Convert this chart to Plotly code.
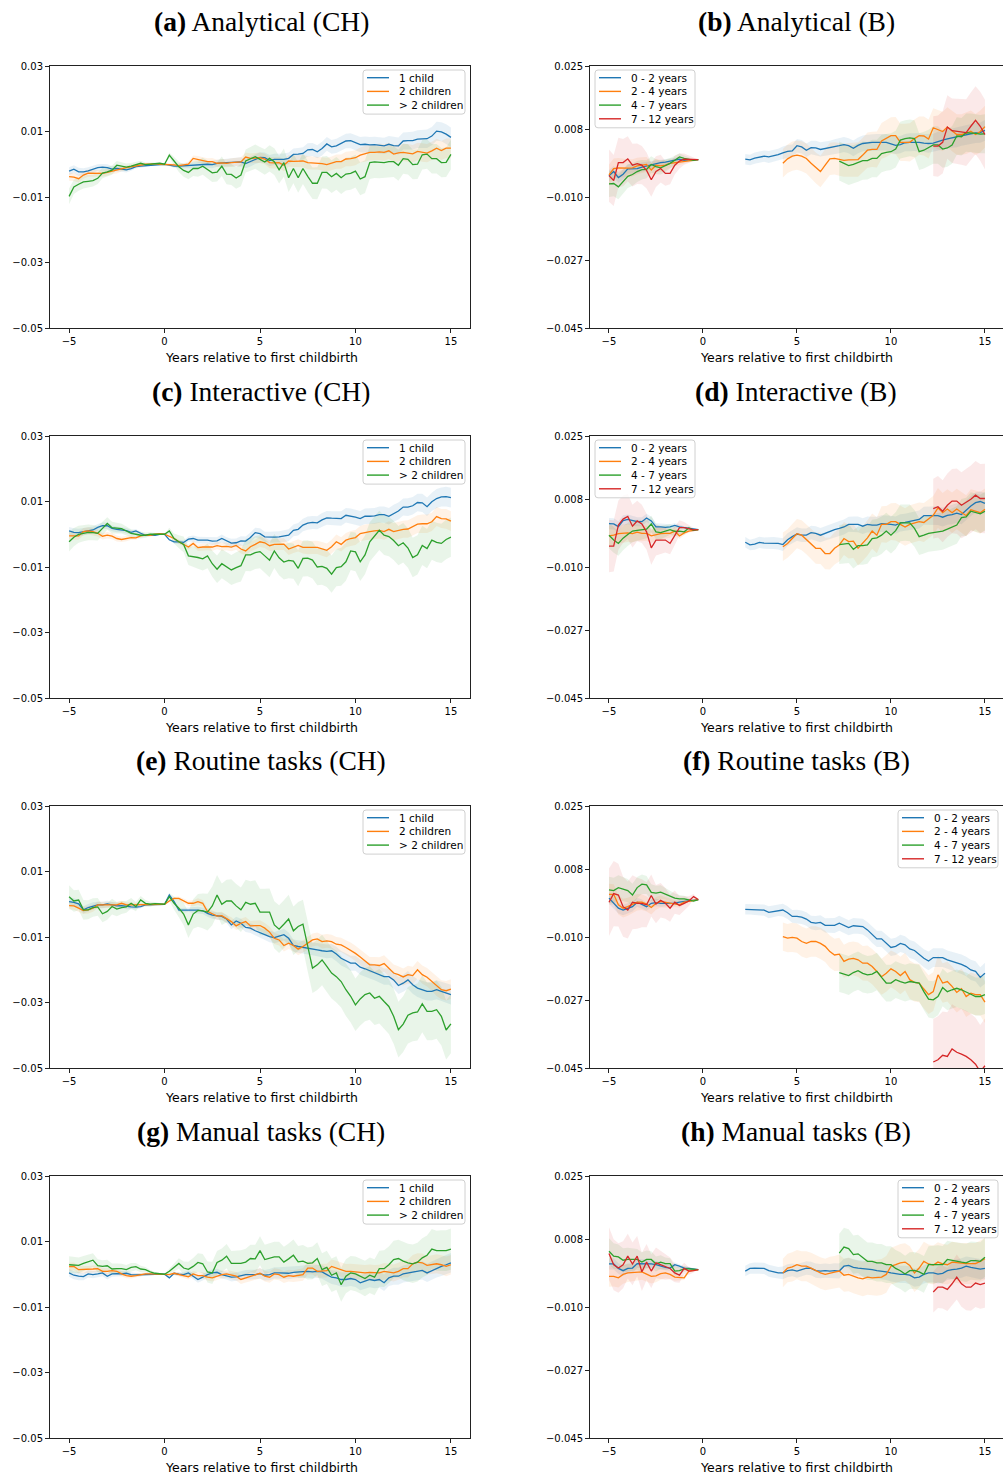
import numpy as np
import plotly.graph_objects as go

# event time: quarters relative to first childbirth (-5 ... 15)
EVENT_TIME = np.arange(-5, 15.001, 0.25)

# ---------- Switzerland (CH): coefficients in 1e-3, one value per quarter ----------
A_ONE_CHILD = [
    -2.1, -1.5, -2.3, -2.3, -2.0, -1.6, -1.0, -0.9, -1.0, -1.5,
    -1.3, -1.5, -1.7, -1.3, -0.7, -0.6, -0.5, -0.3, -0.1, 0,
    0, -0.3, -0.6, -0.6, -0.5, -0.3, -0.3, -0.3, 0, 0,
    -0.1, 0.3, 0.4, 0.5, 0.6, 0.7, 0.7, 0.2, 0.8, 1.6,
    2.1, 2.0, 1.1, 1.5, 1.5, 1.5, 1.8, 3.0, 3.1, 3.3,
    4.4, 4.5, 3.8, 4.8, 6.2, 5.3, 5.6, 6.3, 7.1, 7.2,
    6.6, 6.0, 6.1, 5.9, 6.0, 5.8, 5.6, 6.1, 5.7, 5.6,
    7.1, 7.2, 7.2, 7.7, 7.7, 7.8, 8.6, 10.1, 9.9, 9.2,
    8.2]
A_TWO_CHILDREN = [
    -3.8, -3.9, -4.4, -3.3, -2.7, -2.7, -2.8, -2.8, -2.5, -2.1,
    -1.9, -1.3, -1.0, -0.8, -0.5, -0.2, 0, 0, 0.2, 0,
    0, 0, -0.2, -0.4, -0.3, 0, 1.8, 1.5, 1.1, 0.8,
    0.8, 0.3, 0.4, 0.3, 0.5, 0.7, 0.7, 2.2, 1.8, 1.9,
    2.0, 1.6, 0.5, 0.4, 0.5, -0.3, 1.0, 0.9, 1.0, 1.0,
    0.5, 0.4, 0.4, 0.2, -0.1, 0.3, 0.8, 0.8, 1.6, 1.7,
    2.0, 2.8, 3.2, 3.6, 3.6, 3.8, 3.6, 4.1, 3.1, 3.5,
    3.6, 3.5, 3.2, 3.9, 3.6, 3.4, 4.1, 4.9, 4.2, 4.9,
    4.9]
A_MORE_CHILDREN = [
    -9.8, -6.9, -6.1, -5.4, -5.2, -5.0, -4.3, -2.7, -2.3, -1.8,
    -0.3, -0.6, -0.9, -0.6, -0.1, 0.3, -0.1, 0, 0.2, 0.3,
    0, 2.8, 1.0, -0.8, -1.9, -2.5, -1.3, -1.3, -0.6, -1.6,
    -2.6, -2.4, -0.6, -3.0, -3.1, -4.2, -3.3, 1.0, 1.6, 2.3,
    1.5, 0.7, 1.8, 0.8, -1.7, 0.5, -4.1, -1.3, -4.1, -1.3,
    -3.7, -5.8, -5.8, -2.5, -2.5, -3.8, -2.8, -4.1, -3.0, -2.8,
    -2.1, -4.5, -3.8, 0.5, 0.7, 0.6, 0.5, 0.8, 0.8, -0.3,
    1.7, 1.5, -0.1, 0, 2.9, 3.1, 1.7, 1.7, 0.5, 0.6,
    3.0]

C_ONE_CHILD = [
    1.0, 0.6, 0.5, 0.8, 1.1, 1.3, 2.1, 2.6, 2.6, 1.8,
    1.5, 1.4, 1.1, 0.6, 1.0, 0.3, -0.3, -0.3, -0.3, 0,
    0, -1.7, -2.3, -2.3, -2.5, -1.5, -1.3, -1.8, -1.8, -1.8,
    -2.1, -2.0, -1.3, -2.1, -2.7, -2.6, -2.0, -2.1, -1.0, 0.5,
    0.2, -0.8, -0.9, -0.9, -0.8, -0.6, -0.3, 1.2, 1.5, 2.8,
    3.4, 3.6, 3.5, 4.4, 5.0, 4.9, 4.9, 4.8, 5.8, 5.6,
    5.2, 4.8, 5.5, 5.5, 5.6, 6.0, 6.0, 5.5, 6.4, 7.1,
    8.3, 8.3, 8.7, 9.7, 9.6, 8.4, 9.9, 10.9, 11.4, 11.5,
    11.2]
C_TWO_CHILDREN = [
    -0.5, -0.5, -0.5, 0.8, 1.0, 0.8, 0.3, -0.6, -0.3, -0.6,
    -1.3, -1.6, -1.3, -1.0, -1.1, -0.5, -0.3, -0.3, 0, 0.2,
    0, -0.6, -1.3, -2.3, -3.1, -3.9, -2.8, -4.1, -3.9, -3.9,
    -3.9, -3.5, -3.8, -3.7, -3.9, -3.4, -4.5, -5.1, -3.8, -3.1,
    -2.3, -2.6, -3.5, -3.1, -3.0, -3.0, -4.5, -3.9, -3.4, -4.0,
    -4.1, -4.0, -4.0, -4.5, -4.9, -3.8, -2.3, -3.1, -1.8, -1.3,
    -1.0, 0.2, 0.6, 0.8, 1.0, 1.2, 0.8, 1.5, 0.8, 1.2,
    1.5, 1.6, 2.3, 3.1, 3.2, 3.2, 3.8, 5.4, 4.8, 4.7,
    4.0]
C_MORE_CHILDREN = [
    -2.3, -0.9, 0, 0.4, 0.6, 0.5, 0.3, 1.8, 3.3, 2.0,
    1.8, 1.7, 1.0, 0.3, 0, -0.3, -0.3, 0, 0, 0,
    0, 1.0, -1.3, -2.3, -3.1, -6.6, -6.8, -7.1, -7.5, -6.6,
    -9.0, -10.7, -9.0, -9.9, -10.9, -10.2, -9.6, -6.3, -6.3, -5.6,
    -5.3, -6.6, -7.9, -5.1, -7.2, -8.5, -8.0, -8.2, -10.4, -7.4,
    -7.3, -7.9, -10.0, -9.8, -10.4, -12.2, -10.2, -9.9, -8.4, -5.1,
    -5.4, -8.4, -6.3, -2.3, -0.6, 1.2, -0.3, -0.7, -1.9, -3.5,
    -2.6, -4.2, -7.1, -6.3, -3.4, -4.4, -1.8, -2.5, -2.8, -1.6,
    -0.9]

E_ONE_CHILD = [
    0.8, 0.6, 0.1, -1.7, -1.0, -0.5, -0.2, -0.2, 0.1, -0.2,
    -0.5, -0.4, -0.7, -0.8, -0.9, -0.7, -0.2, -0.1, -0.2, 0,
    0, 2.8, 0.8, -1.8, -1.8, -1.6, -1.6, -1.8, -2.0, -2.8,
    -3.3, -3.6, -3.7, -4.5, -6.3, -5.1, -5.8, -7.1, -7.3, -8.1,
    -8.8, -9.3, -9.9, -10.2, -9.7, -9.3, -10.4, -12.6, -12.9, -13.1,
    -13.4, -13.6, -13.9, -14.2, -14.4, -14.2, -15.2, -16.5, -17.2, -18.0,
    -18.0, -19.2, -19.7, -20.3, -20.8, -21.3, -22.1, -22.1, -23.1, -24.8,
    -24.1, -23.1, -24.6, -25.6, -26.1, -26.6, -26.6, -26.1, -26.6, -27.1,
    -27.6]
E_TWO_CHILDREN = [
    -0.4, -0.5, -1.2, -1.9, -1.7, -1.2, -0.2, -0.2, -0.2, -0.2,
    -0.2, 0.3, -0.2, -0.2, -0.2, -0.2, -0.2, -0.2, -0.1, 0,
    0, 1.0, 1.8, 1.8, 1.0, 0.3, 0.3, 0.8, 0.3, -2.2,
    -2.9, -3.6, -3.5, -4.5, -5.3, -6.6, -5.8, -5.3, -6.6, -6.5,
    -6.5, -7.3, -8.5, -10.4, -10.9, -12.6, -11.9, -12.6, -13.7, -12.9,
    -11.9, -10.9, -10.6, -11.4, -11.2, -11.4, -12.2, -12.4, -13.2, -14.0,
    -15.0, -16.1, -17.3, -18.5, -18.5, -18.7, -18.1, -19.5, -21.0, -21.5,
    -22.2, -21.5, -21.8, -20.0, -21.5, -22.3, -23.6, -25.1, -26.1, -26.4,
    -25.9]
E_MORE_CHILDREN = [
    2.3, 1.0, 1.3, -1.7, -1.7, -1.0, -0.8, -2.9, -2.2, -0.7,
    -1.5, -1.0, -0.8, 0.3, -0.7, 1.3, 0.3, 0, 0.2, 0,
    0, 2.3, 0.3, -1.2, -3.0, -6.3, -3.0, -1.9, -2.0, -2.4,
    -0.5, 2.8, 0, 1.0, 1.0, -0.5, -1.7, 0.6, 0, 0.3,
    -2.4, -2.4, -2.4, -6.3, -7.6, -6.1, -4.5, -8.1, -6.8, -6.1,
    -12.9, -19.5, -18.5, -17.0, -19.0, -21.0, -22.1, -23.6, -26.1, -28.1,
    -30.7, -28.9, -27.6, -27.1, -28.7, -28.1, -29.7, -31.2, -34.2, -38.3,
    -36.6, -33.9, -33.2, -32.9, -30.4, -32.7, -32.7, -32.2, -34.2, -38.4,
    -36.5]

G_ONE_CHILD = [
    0.4, -0.3, -0.6, -0.7, 0.1, -0.1, 0.1, 0.4, -0.6, 0.1,
    0.2, 0.1, 0.3, -0.1, -0.2, -0.1, -0.1, 0.1, 0, 0,
    0, -1.1, 0.3, 0, -0.1, 0.4, -0.6, -1.6, -0.9, -0.1,
    0.4, 0.6, -0.1, -0.4, -0.9, -0.8, -0.4, -0.1, -0.1, -0.1,
    0.2, -0.3, -0.1, 0.4, 0.4, 0.4, 0.3, 0.6, 0.6, 0.8,
    0.9, 0.7, 0.9, 0.7, -0.1, -0.9, -1.1, -1.6, -1.6, -1.3,
    -1.6, -2.6, -2.1, -1.6, -1.9, -1.6, -2.6, -1.1, -0.6, -0.6,
    0.1, 0.4, 0.7, 0.9, 1.2, 0.4, 1.1, 1.9, 2.4, 2.9,
    3.5]
G_TWO_CHILDREN = [
    2.3, 2.4, 1.4, 1.4, 1.4, 1.6, 1.7, 0.9, 0.9, 1.1,
    0.9, 0.1, -0.4, -0.6, -0.4, -0.1, 0.1, 0.1, 0.1, -0.1,
    0, -0.1, 0.3, -0.1, -0.4, -0.8, 0.1, -0.4, -0.4, -0.9,
    -1.1, -0.6, -0.1, 0.1, -0.3, -0.6, -1.6, -1.1, -0.6, -0.1,
    0.3, -0.6, -0.9, 0.1, -0.1, -0.9, -0.4, -0.6, -0.4, -0.1,
    1.9, 1.9, 0.9, 1.1, 1.1, 2.4, 1.9, 1.4, 0.9, 0.9,
    0.7, 0.7, 0.4, 0.6, 0.4, 0.4, 0.9, 0.7, 0.4, 0.9,
    1.7, 1.7, 3.2, 3.7, 3.5, 2.7, 2.9, 3.2, 2.9, 2.4,
    2.9]
G_MORE_CHILDREN = [
    2.9, 2.8, 2.7, 3.3, 3.8, 4.3, 2.6, 2.4, 2.6, 1.6,
    1.7, 1.7, 1.4, 2.1, 2.3, 1.6, 1.4, 0.7, 0.3, 0.1,
    0, 0.9, 2.1, 3.3, 1.9, 1.5, 2.4, 3.6, 3.2, 0.7,
    0.4, 3.6, 4.3, 5.5, 3.3, 3.3, 3.3, 3.7, 4.8, 4.7,
    7.2, 4.5, 5.0, 5.3, 5.3, 3.7, 4.7, 5.8, 3.8, 4.0,
    3.3, 3.5, 4.8, 1.4, 2.1, -0.3, 0.4, -3.2, -0.6, 0.4,
    0.1, -0.6, -1.3, -0.3, -0.9, 1.7, 1.7, 2.9, 4.5, 4.8,
    4.0, 3.5, 3.2, 3.7, 5.0, 5.8, 7.7, 7.2, 7.2, 7.2,
    7.7]

# confidence band half-widths (1e-3), CH panels
L_HW_NARROW = [
    1.2, 1.2, 1.2, 1.1, 1.1, 1.1, 1.0, 1.0, 1.0, 0.9, 0.9, 0.8, 0.8, 0.7, 0.6, 0.5, 0.4, 0.3, 0.2, 0.1,
    0,
    0.3, 0.5, 0.6, 0.7, 0.8, 0.9, 1.0, 1.0, 1.0, 1.1, 1.1, 1.2, 1.2, 1.3, 1.3, 1.4, 1.4, 1.5, 1.5, 1.6,
    1.6, 1.7, 1.7, 1.7, 1.8, 1.8, 1.8, 1.9, 1.9, 2.0, 2.0, 2.0, 2.1, 2.1, 2.1, 2.2, 2.2, 2.2, 2.3, 2.3,
    2.3, 2.4, 2.4, 2.4, 2.5, 2.5, 2.5, 2.6, 2.6, 2.6, 2.7, 2.7, 2.7, 2.8, 2.8, 2.8, 2.9, 2.9, 3.0, 3.0]
L_HW_MORE_A = [
    2.4, 2.2, 2.0, 2.0, 1.9, 1.8, 1.7, 1.6, 1.5, 1.4, 1.3, 1.2, 1.1, 1.0, 0.9, 0.8, 0.6, 0.5, 0.3, 0.2,
    0,
    0.8, 1.2, 1.6, 1.9, 2.1, 2.3, 2.5, 2.6, 2.7, 2.8, 2.9, 3.0, 3.1, 3.2, 3.3, 3.4, 3.5, 3.6, 3.7, 3.8,
    3.9, 4.0, 4.1, 4.2, 4.3, 4.4, 4.5, 4.6, 4.7, 4.8, 4.8, 4.9, 4.9, 5.0, 5.0, 5.0, 5.0, 5.0, 5.0, 5.0,
    5.0, 5.0, 5.0, 4.9, 4.9, 4.8, 4.8, 4.7, 4.7, 4.6, 4.6, 4.5, 4.5, 4.5, 4.5, 4.5, 4.5, 4.5, 4.5, 4.5]
L_HW_MORE_C = [
    3.0, 2.8, 2.6, 2.5, 2.4, 2.3, 2.2, 2.0, 1.9, 1.8, 1.6, 1.5, 1.4, 1.2, 1.1, 1.0, 0.8, 0.6, 0.4, 0.2,
    0,
    1.0, 1.5, 2.0, 2.4, 2.8, 3.1, 3.4, 3.6, 3.8, 4.0, 4.2, 4.4, 4.5, 4.6, 4.7, 4.8, 4.9, 5.0, 5.0, 5.1,
    5.1, 5.2, 5.2, 5.3, 5.3, 5.4, 5.4, 5.5, 5.5, 5.5, 5.6, 5.6, 5.6, 5.7, 5.7, 5.7, 5.8, 5.8, 5.8, 5.9,
    5.9, 5.9, 6.0, 6.0, 6.0, 6.0, 6.0, 6.0, 6.0, 6.0, 6.0, 6.0, 6.0, 6.0, 6.0, 6.0, 6.0, 6.0, 6.0, 6.0]
L_HW_MORE_E = [
    3.5, 3.3, 3.1, 3.0, 2.9, 2.8, 2.7, 2.6, 2.5, 2.4, 2.2, 2.0, 1.8, 1.6, 1.4, 1.2, 1.0, 0.8, 0.5, 0.3,
    0,
    1.2, 2.0, 2.8, 3.4, 4.0, 4.5, 5.0, 5.3, 5.6, 5.9, 6.1, 6.3, 6.5, 6.6, 6.7, 6.8, 6.9, 7.0, 7.0, 7.1,
    7.1, 7.2, 7.2, 7.3, 7.3, 7.4, 7.4, 7.5, 7.5, 7.6, 7.6, 7.7, 7.7, 7.8, 7.8, 7.9, 7.9, 8.0, 8.0, 8.0,
    8.1, 8.1, 8.2, 8.2, 8.3, 8.3, 8.4, 8.4, 8.5, 8.5, 8.6, 8.6, 8.7, 8.7, 8.8, 8.8, 8.9, 8.9, 9.0, 9.0]
L_HW_MORE_G = [
    2.6, 2.5, 2.4, 2.3, 2.2, 2.1, 2.0, 1.9, 1.8, 1.7, 1.6, 1.5, 1.4, 1.3, 1.1, 1.0, 0.8, 0.6, 0.4, 0.2,
    0,
    0.8, 1.2, 1.6, 2.0, 2.3, 2.6, 2.8, 3.0, 3.2, 3.4, 3.5, 3.6, 3.7, 3.8, 3.9, 4.0, 4.1, 4.2, 4.3, 4.4,
    4.5, 4.5, 4.6, 4.6, 4.7, 4.7, 4.8, 4.8, 4.9, 4.9, 5.0, 5.0, 5.0, 5.1, 5.1, 5.1, 5.2, 5.2, 5.2, 5.3,
    5.3, 5.4, 5.4, 5.5, 5.5, 5.6, 5.6, 5.7, 5.7, 5.8, 5.8, 5.9, 5.9, 6.0, 6.0, 6.1, 6.1, 6.2, 6.2, 6.3]

# ---------- B panels: pre-birth (-5 .. -0.25) and post segments by child age ----------
B_PRE_02 = [-4.3, -3.2, -4.8, -3.9, -2.5, -2.5, -2.4, -2.0, -1.7, -1.5, -1.2, -0.8, -0.7, -0.4, -0.1, 0.1, -0.2, -0.1, 0, 0]
B_PRE_24 = [-4.1, -2.4, -2.2, -2.3, -2.3, -2.2, -1.7, -1.5, -1.3, -2.8, -1.5, -1.7, -1.5, -1.0, -0.8, -0.7, -0.5, -0.3, -0.2, 0]
B_PRE_47 = [-6.5, -6.4, -7.3, -5.8, -4.5, -4.0, -3.2, -2.7, -2.6, -1.3, -1.9, -2.2, -1.7, -1.0, -0.2, 0.7, 0.3, 0.1, -0.2, 0]
B_PRE_712 = [-4.3, -5.6, -0.8, -0.8, 0.2, -1.5, -1.1, -1.5, -2.9, -5.4, -3.2, -2.4, -3.7, -3.7, -1.5, -0.4, 0.1, 0.1, 0.1, 0]
B_POST_02 = [
    0.1, -0.1, 0.4, 0.7, 0.9, 0.7, 0.9, 1.3, 1.8, 2.2,
    2.3, 3.7, 3.4, 2.5, 3.2, 3.1, 2.7, 2.9, 3.1, 3.4,
    3.7, 4.0, 3.7, 3.0, 3.8, 4.3, 4.5, 4.6, 4.6, 4.6,
    4.6, 4.2, 3.8, 4.0, 4.5, 4.6, 4.7, 4.6, 4.4, 4.3,
    4.4, 4.9, 5.2, 5.5, 5.8, 5.9, 6.3, 6.7, 6.9, 7.1,
    7.2, 7.8]
B_POST_24 = [
    -1.0, 0.2, 0.9, 1.2, 0.9, 0.3, -1.0, -2.2, -3.2, -1.5,
    0.2, 0.3, 0.1, -0.2, -0.1, -0.1, 0, 1.2, 2.5, 2.7,
    2.7, 5.0, 5.6, 6.4, 6.4, 4.6, 4.6, 4.6, 5.6, 6.4,
    6.3, 5.5, 8.5, 8.0, 7.5, 8.7, 7.6, 6.7, 6.7, 7.0,
    7.6, 6.7, 7.5, 8.8]
B_POST_47 = [
    -0.4, -1.0, -1.6, -1.3, -0.8, -0.3, -0.3, 0.3, 0.3, 1.6,
    1.9, 2.1, 2.8, 5.2, 5.6, 5.8, 5.6, 2.1, 2.5, 3.1,
    3.9, 3.9, 2.8, 3.1, 3.9, 6.3, 6.1, 7.2, 7.2, 7.0,
    6.8, 6.9]
B_POST_712 = [3.6, 3.6, 4.6, 8.7, 7.7, 7.5, 7.4, 7.2, 8.9, 10.5, 8.9, 6.7]

D_PRE_02 = [1.6, 1.5, 0.8, 2.4, 2.7, 2.3, 2.1, 2.1, 3.1, 2.3, 0.7, 0.7, 0.6, 0.7, 1.1, 0.7, 0.5, 0.3, 0.1, 0]
D_PRE_24 = [-1.7, -1.5, -1.1, -1.0, -0.9, -1.1, -0.7, -1.0, -1.0, -1.7, -1.3, -1.1, -1.0, -1.0, -0.4, -1.7, -0.9, -0.4, -0.2, 0]
D_PRE_47 = [-1.5, -2.8, -3.7, -2.3, -1.3, -0.4, -0.2, -0.1, 0.1, 1.5, -0.6, -0.8, -0.4, 0, -0.5, -0.4, -0.6, 0.4, -0.2, 0]
D_PRE_712 = [-4.4, -4.4, 1.2, 2.8, 3.5, 0.9, 2.3, 1.5, -0.6, -4.9, -2.8, -2.8, -2.8, -3.7, -1.6, 0.5, 0.5, 0.3, -0.1, 0]
D_POST_02 = [
    -3.4, -4.1, -3.9, -3.4, -3.6, -3.6, -3.6, -3.7, -4.0, -2.7,
    -1.9, -1.2, -1.5, -1.5, -0.8, -1.0, -1.5, -1.0, -0.4, 0,
    0.3, 0.7, 1.4, 1.4, 1.4, 0.9, 1.4, 1.2, 1.2, 1.6,
    1.6, 1.4, 1.2, 1.8, 1.9, 2.1, 2.5, 2.7, 3.7, 3.7,
    3.7, 3.7, 3.3, 3.8, 4.0, 4.4, 4.0, 5.2, 6.3, 7.2,
    7.5, 7.0]
D_POST_24 = [
    -4.6, -3.7, -2.4, -1.1, -1.5, -2.6, -3.7, -5.0, -5.0, -6.4,
    -6.4, -5.0, -4.1, -2.4, -3.2, -3.1, -5.0, -3.7, -2.2, -0.4,
    -1.5, 1.4, 1.4, 2.1, 2.1, 1.4, 0.7, 1.4, 1.8, 2.1,
    1.9, 2.8, 3.8, 5.8, 4.5, 5.5, 4.5, 5.5, 4.6, 3.7,
    5.3, 4.9, 4.5, 5.4]
D_POST_47 = [
    -4.0, -3.8, -3.7, -5.3, -4.3, -4.3, -4.1, -2.4, -2.2, -1.5,
    -0.4, -1.5, -0.3, 1.8, 1.9, 1.8, 0.3, -1.9, -1.5, -1.0,
    -0.8, -0.6, -0.4, 0.1, 0.7, 1.2, 3.2, 3.4, 4.9, 4.5,
    4.2, 4.9]
D_POST_712 = [5.6, 6.1, 4.9, 6.5, 7.6, 7.6, 6.5, 7.2, 8.1, 9.2, 8.3, 8.3]

F_PRE_02 = [0.4, -1.0, -2.3, -2.8, -2.3, -1.9, -0.7, -1.2, -1.9, -1.0, -0.8, -1.0, -1.0, -1.0, -1.0, -0.7, -0.5, -0.4, -0.1, 0]
F_PRE_24 = [1.4, 1.4, -1.4, -2.3, -1.9, -1.4, -0.7, -0.7, -1.2, -2.1, -1.0, -0.5, -0.7, -1.0, -1.0, -1.4, -0.7, -0.5, -0.2, 0]
F_PRE_47 = [2.6, 2.4, 3.2, 2.8, 2.4, 1.2, 3.2, 4.1, 3.9, 1.9, 1.7, 2.0, 1.5, 1.1, 0.4, 0.2, 0.2, -0.1, -0.4, 0]
F_PRE_712 = [-0.7, 1.6, 1.2, -1.9, -2.8, -0.7, -1.0, -1.0, -1.4, 1.1, -1.2, -0.2, -1.0, -2.3, -0.7, -1.6, -1.0, -0.4, 0.8, 0]
F_POST_02 = [
    -2.6, -2.6, -2.6, -2.6, -2.8, -3.4, -3.2, -2.8, -2.8, -3.5,
    -4.5, -4.5, -4.7, -5.2, -6.1, -6.3, -6.1, -6.9, -6.9, -6.9,
    -6.3, -6.8, -7.5, -7.0, -7.0, -7.2, -8.1, -9.4, -10.5, -10.5,
    -11.7, -12.8, -12.5, -11.7, -12.1, -13.2, -13.6, -14.6, -15.7, -16.4,
    -15.5, -15.5, -15.5, -16.1, -16.5, -16.8, -17.3, -17.9, -18.8, -19.2,
    -20.8, -19.7]
F_POST_24 = [
    -9.9, -10.3, -10.1, -10.3, -11.2, -11.7, -11.2, -11.2, -11.7, -12.5,
    -13.9, -14.8, -14.6, -16.5, -15.9, -15.7, -16.1, -17.0, -17.0, -17.9,
    -19.2, -20.6, -19.7, -18.5, -19.2, -20.3, -19.2, -21.4, -22.1, -22.3,
    -23.9, -25.4, -24.6, -20.1, -22.3, -21.9, -23.2, -24.8, -23.8, -25.9,
    -25.0, -25.4, -25.4, -27.4]
F_POST_47 = [
    -19.5, -19.8, -20.3, -19.5, -19.0, -19.7, -20.1, -19.9, -19.2, -20.8,
    -22.3, -22.3, -21.4, -21.9, -22.3, -21.9, -22.1, -22.3, -24.6, -26.6,
    -26.8, -25.9, -23.5, -24.6, -24.1, -23.7, -24.1, -24.6, -25.3, -25.9,
    -25.9, -25.4]
F_POST_712 = [-43.4, -42.8, -41.6, -41.9, -39.9, -40.8, -41.3, -41.9, -42.8, -44.0, -46.0, -44.4]

H_PRE_02 = [1.5, 1.5, 0.3, -0.3, 0.3, 0.4, 1.6, 1.6, 1.6, 1.5, 1.3, 0.9, 0.6, 0.4, 1.3, 0.9, 0.4, 0.3, 0.1, 0]
H_PRE_24 = [-1.8, -1.8, -2.2, -1.3, -0.9, -0.8, -0.7, -0.6, -1.2, -1.8, -1.7, -1.1, -0.9, -1.3, -2.0, -2.2, -2.2, -0.4, -0.1, 0]
H_PRE_47 = [4.9, 3.6, 3.4, 2.5, 2.7, 2.7, 2.7, 2.0, 2.7, 2.7, 1.5, 2.0, 1.6, 1.6, -0.4, -0.3, 0.2, 0.2, 0, 0]
H_PRE_712 = [4.3, 1.3, 0.4, 1.3, 3.6, 1.5, 3.6, -0.6, 2.0, -0.4, 1.8, 1.3, 0.6, 0.3, -0.9, -1.5, 0.3, -0.4, -0.3, 0]
H_POST_02 = [
    -0.4, 0.3, 0.4, 0.4, 0.3, -0.3, -0.6, -0.9, -0.9, -0.3,
    -0.1, -0.4, 0, 0.4, 0.3, -0.3, -0.4, -0.3, -0.4, -0.3,
    -0.4, 0.9, 1.1, 0.6, 0.4, 0.3, 0, 0, -0.3, -0.4,
    -0.6, -0.9, -1.2, -1.3, -1.3, -1.5, -2.2, -2.0, -1.3, -0.9,
    -0.9, -1.2, -1.0, -0.3, 0, 0.1, 0.4, 0.9, 0.6, 0.4,
    0.1, 0.3]
H_POST_24 = [
    -0.9, 0.4, 0.7, 1.3, 0.9, 0.9, 0.4, -0.3, -0.9, -1.3,
    -0.9, -0.7, -0.4, -1.5, -1.3, -1.8, -2.2, -2.5, -2.0, -2.2,
    -2.2, -2.0, -1.3, 0.9, 1.3, 1.8, 2.0, 1.1, -0.9, 0.4,
    2.2, 1.5, 1.2, 2.0, 1.5, 1.3, 2.0, 1.8, 1.6, 1.6,
    1.6, 1.6, 2.2, 2.9]
H_POST_47 = [
    4.4, 6.0, 5.6, 4.0, 4.2, 3.1, 2.2, 2.2, 1.8, 1.8,
    1.3, 1.3, 0.3, -0.3, -1.2, -0.3, -0.2, -0.6, -1.3, 1.3,
    1.3, 1.5, 1.3, 2.7, 2.4, 2.2, 2.0, 1.8, 2.4, 2.4,
    2.2, 3.3]
H_POST_712 = [-6.0, -4.7, -4.7, -5.3, -3.8, -2.0, -3.8, -4.7, -4.7, -3.6, -4.0, -3.6]

# band half-widths (1e-3), B panels
R_PRE_HW_02 = [1.5, 1.5, 1.4, 1.4, 1.3, 1.3, 1.2, 1.2, 1.1, 1.1, 1.0, 0.9, 0.8, 0.7, 0.6, 0.5, 0.4, 0.3, 0.2, 0]
R_PRE_HW_24 = [2.8, 2.7, 2.6, 2.5, 2.4, 2.3, 2.2, 2.1, 2.0, 1.9, 1.7, 1.6, 1.4, 1.2, 1.0, 0.8, 0.6, 0.4, 0.2, 0]
R_PRE_HW_47 = [3.5, 3.4, 3.3, 3.2, 3.1, 3.0, 2.8, 2.6, 2.4, 2.2, 2.0, 1.8, 1.6, 1.4, 1.2, 1.0, 0.8, 0.5, 0.3, 0]
R_PRE_HW_712 = [7.0, 6.8, 6.6, 6.3, 6.0, 5.7, 5.4, 5.1, 4.8, 4.5, 4.1, 3.7, 3.3, 2.9, 2.5, 2.0, 1.5, 1.0, 0.5, 0]
F_PRE_HW_712 = [9.0, 8.7, 8.4, 8.0, 7.6, 7.2, 6.8, 6.4, 6.0, 5.6, 5.1, 4.6, 4.1, 3.6, 3.1, 2.5, 1.9, 1.3, 0.7, 0]
R_POST_HW_02 = [
    1.4, 1.4, 1.5, 1.5, 1.5, 1.6, 1.6, 1.6, 1.7, 1.7, 1.7, 1.8, 1.8, 1.8, 1.8, 1.9, 1.9, 1.9, 1.9, 2.0,
    2.0, 2.0, 2.0, 2.1, 2.1, 2.1, 2.1, 2.2, 2.2, 2.2, 2.2, 2.3, 2.3, 2.3, 2.3, 2.4, 2.4, 2.4, 2.4, 2.5,
    2.5, 2.5, 2.5, 2.5, 2.6, 2.6, 2.6, 2.6, 2.7, 2.7, 2.7, 2.8]
R_POST_HW_24 = [
    3.8, 3.8, 3.9, 3.9, 4.0, 4.0, 4.1, 4.1, 4.2, 4.2, 4.3, 4.3, 4.4, 4.4, 4.5, 4.5, 4.6, 4.6, 4.7, 4.7,
    4.8, 4.8, 4.9, 4.9, 5.0, 5.0, 5.0, 5.1, 5.1, 5.1, 5.2, 5.2, 5.2, 5.3, 5.3, 5.3, 5.4, 5.4, 5.4, 5.5,
    5.5, 5.5, 5.6, 5.6]
R_POST_HW_47 = [
    5.2, 5.2, 5.2, 5.1, 5.1, 5.1, 5.0, 5.0, 5.0, 5.0, 4.9, 4.9, 4.9, 4.9, 4.9, 4.9, 4.9, 4.9, 4.9, 4.9,
    5.0, 5.0, 5.0, 5.0, 5.0, 5.0, 5.0, 5.1, 5.1, 5.1, 5.1, 5.2]
BD_POST_HW_712 = [8.0, 8.2, 8.3, 8.5, 8.6, 8.7, 8.8, 8.9, 9.0, 9.1, 9.2, 9.3]
F_POST_HW_712 = [11.5, 11.6, 11.7, 11.8, 11.9, 12.0, 12.1, 12.2, 12.3, 12.4, 12.5, 12.6]
H_POST_HW_712 = [5.5, 5.6, 5.7, 5.8, 5.9, 6.0, 6.1, 6.2, 6.3, 6.4, 6.5, 6.6]

CH_GROUPS = ["1 child", "2 children", "> 2 children"]
B_GROUPS = ["0 - 2 years", "2 - 4 years", "4 - 7 years", "7 - 12 years"]
B_POST_START = [2.25, 4.25, 7.25, 12.25]
COLORS = ["#1f77b4", "#ff7f0e", "#2ca02c", "#d62728"]
RGB = [(31, 119, 180), (255, 127, 14), (44, 160, 44), (214, 39, 40)]

CH_PANELS = [
    ("a", "Analytical (CH)", [A_ONE_CHILD, A_TWO_CHILDREN, A_MORE_CHILDREN], [L_HW_NARROW, L_HW_NARROW, L_HW_MORE_A]),
    ("c", "Interactive (CH)", [C_ONE_CHILD, C_TWO_CHILDREN, C_MORE_CHILDREN], [L_HW_NARROW, L_HW_NARROW, L_HW_MORE_C]),
    ("e", "Routine tasks (CH)", [E_ONE_CHILD, E_TWO_CHILDREN, E_MORE_CHILDREN], [L_HW_NARROW, L_HW_NARROW, L_HW_MORE_E]),
    ("g", "Manual tasks (CH)", [G_ONE_CHILD, G_TWO_CHILDREN, G_MORE_CHILDREN], [L_HW_NARROW, L_HW_NARROW, L_HW_MORE_G]),
]
PRE_HW = [R_PRE_HW_02, R_PRE_HW_24, R_PRE_HW_47]
POST_HW = [R_POST_HW_02, R_POST_HW_24, R_POST_HW_47]
B_PANELS = [
    ("b", "Analytical (B)", [B_PRE_02, B_PRE_24, B_PRE_47, B_PRE_712], [B_POST_02, B_POST_24, B_POST_47, B_POST_712],
     PRE_HW + [R_PRE_HW_712], POST_HW + [BD_POST_HW_712], "left"),
    ("d", "Interactive (B)", [D_PRE_02, D_PRE_24, D_PRE_47, D_PRE_712], [D_POST_02, D_POST_24, D_POST_47, D_POST_712],
     PRE_HW + [R_PRE_HW_712], POST_HW + [BD_POST_HW_712], "left"),
    ("f", "Routine tasks (B)", [F_PRE_02, F_PRE_24, F_PRE_47, F_PRE_712], [F_POST_02, F_POST_24, F_POST_47, F_POST_712],
     PRE_HW + [F_PRE_HW_712], POST_HW + [F_POST_HW_712], "right"),
    ("h", "Manual tasks (B)", [H_PRE_02, H_PRE_24, H_PRE_47, H_PRE_712], [H_POST_02, H_POST_24, H_POST_47, H_POST_712],
     PRE_HW + [R_PRE_HW_712], POST_HW + [H_POST_HW_712], "right"),
]

W, H = 1003, 1477
ROW_TOP = [66, 436, 806, 1176]
PLOT_H = 262
LEFT_X = (50, 470)
RIGHT_X = (590, 1003)
FONT = "DejaVu Sans"

fig = go.Figure()
shapes = []
annotations = []


def px(x):
    return x / W


def py(y):
    return 1 - y / H


def band(x, y, hw, k, ax):
    y = np.asarray(y, dtype=float) / 1000
    hw = np.asarray(hw, dtype=float) / 1000
    xs = np.concatenate([x, x[::-1]])
    ys = np.concatenate([y + hw, (y - hw)[::-1]])
    r, g, b = RGB[k]
    fig.add_trace(go.Scatter(x=xs, y=ys, mode="lines", fill="toself",
                             fillcolor=f"rgba({r},{g},{b},0.1)",
                             line=dict(width=0, color="rgba(0,0,0,0)"),
                             hoverinfo="skip", showlegend=False,
                             xaxis="x" + ax, yaxis="y" + ax))


def legend_box(x0, y0, labels):
    # matplotlib-style legend: rounded frame, short line samples, labels
    width = 102 if len(labels) == 3 else 100
    height = 13.7 * len(labels) + 3
    x1, y1, r = x0 + width, y0 + height, 3
    path = (f"M {px(x0 + r)},{py(y0)} L {px(x1 - r)},{py(y0)} Q {px(x1)},{py(y0)} {px(x1)},{py(y0 + r)} "
            f"L {px(x1)},{py(y1 - r)} Q {px(x1)},{py(y1)} {px(x1 - r)},{py(y1)} "
            f"L {px(x0 + r)},{py(y1)} Q {px(x0)},{py(y1)} {px(x0)},{py(y1 - r)} "
            f"L {px(x0)},{py(y0 + r)} Q {px(x0)},{py(y0)} {px(x0 + r)},{py(y0)} Z")
    shapes.append(dict(type="path", path=path, xref="paper", yref="paper",
                       fillcolor="rgba(255,255,255,0.8)", line=dict(color="#d0d0d0", width=1)))
    for k, lab in enumerate(labels):
        yy = y0 + 7.7 + 13.7 * k
        shapes.append(dict(type="line", xref="paper", yref="paper",
                           x0=px(x0 + 4), x1=px(x0 + 26), y0=py(yy), y1=py(yy),
                           line=dict(color=COLORS[k], width=1.4)))
        annotations.append(dict(x=px(x0 + 33.5), y=py(yy), xref="paper", yref="paper",
                                text=lab, showarrow=False, xanchor="left", yanchor="middle",
                                font=dict(family=FONT, size=10.5, color="#000")))


def axis_style(domain_x, domain_y, anchor, xrange, yrange, yticks, ylabels, mirror_y):
    common = dict(ticks="outside", ticklen=4, tickwidth=1, tickcolor="#222",
                  showline=True, linecolor="#222", linewidth=1,
                  showgrid=False, zeroline=False, automargin=False,
                  tickfont=dict(family=FONT, size=10, color="#000"))
    xa = dict(domain=domain_x, anchor="y" + anchor, range=xrange, mirror=True,
              tickvals=[-5, 0, 5, 10, 15], ticktext=["\u22125", "0", "5", "10", "15"], **common)
    ya = dict(domain=domain_y, anchor="x" + anchor, range=yrange, mirror=mirror_y,
              tickvals=yticks, ticktext=ylabels, **common)
    return xa, ya


layout = {}
panels = []
for row in range(4):
    panels.append(("L", row, CH_PANELS[row]))
    panels.append(("R", row, B_PANELS[row]))

for idx, (side, row, spec) in enumerate(panels, start=1):
    ax = "" if idx == 1 else str(idx)
    top = ROW_TOP[row]
    dom_y = [py(top + PLOT_H), py(top)]

    if side == "L":
        letter, title, series, hws = spec
        dom_x = [px(LEFT_X[0]), px(LEFT_X[1])]
        for k, (vals, hw) in enumerate(zip(series, hws)):
            band(EVENT_TIME, vals, hw, k, ax)
        for k, vals in enumerate(series):
            fig.add_trace(go.Scatter(x=EVENT_TIME, y=np.asarray(vals) / 1000, mode="lines",
                                     name=CH_GROUPS[k], line=dict(color=COLORS[k], width=1.3),
                                     xaxis="x" + ax, yaxis="y" + ax, showlegend=False))
        xa, ya = axis_style(dom_x, dom_y, ax, [-6.0, 16.0], [-0.05, 0.03],
                            [-0.05, -0.03, -0.01, 0.01, 0.03],
                            ["\u22120.05", "\u22120.03", "\u22120.01", "0.01", "0.03"], True)
        legend_box(363, top + 4, CH_GROUPS)
        cx = (LEFT_X[0] + LEFT_X[1]) / 2 + 1
    else:
        letter, title, pres, posts, pre_hws, post_hws, where = spec
        dom_x = [px(RIGHT_X[0]), 1.0]
        pre_x = EVENT_TIME[:20]
        for k in range(4):
            post_x = EVENT_TIME[EVENT_TIME >= B_POST_START[k] - 1e-9]
            band(pre_x, pres[k], pre_hws[k], k, ax)
            band(post_x, posts[k], post_hws[k], k, ax)
        for k in range(4):
            post_x = EVENT_TIME[EVENT_TIME >= B_POST_START[k] - 1e-9]
            xs = list(pre_x) + [None] + list(post_x)
            ys = [v / 1000 for v in pres[k]] + [None] + [v / 1000 for v in posts[k]]
            fig.add_trace(go.Scatter(x=xs, y=ys, mode="lines", connectgaps=False,
                                     name=B_GROUPS[k], line=dict(color=COLORS[k], width=1.3),
                                     xaxis="x" + ax, yaxis="y" + ax, showlegend=False))
        xa, ya = axis_style(dom_x, dom_y, ax, [-6.01, 15.96], [-0.045, 0.025],
                            [-0.045, -0.027, -0.010, 0.008, 0.025],
                            ["\u22120.045", "\u22120.027", "\u22120.010", "0.008", "0.025"], False)
        legend_box(595 if where == "left" else 898, top + 4, B_GROUPS)
        cx = 796

    layout["xaxis" + ax] = xa
    layout["yaxis" + ax] = ya

    annotations.append(dict(x=px(cx), y=py(top - 45), xref="paper", yref="paper",
                            text=f"<b>({letter})</b> {title}", showarrow=False,
                            xanchor="center", yanchor="middle",
                            font=dict(family="Liberation Serif", size=27.5, color="#000")))
    annotations.append(dict(x=px(cx), y=py(top + PLOT_H + 29.5), xref="paper", yref="paper",
                            text="Years relative to first childbirth", showarrow=False,
                            xanchor="center", yanchor="middle",
                            font=dict(family=FONT, size=12.5, color="#000")))

fig.update_layout(**layout)
fig.update_layout(template="none", width=W, height=H, autosize=False,
                  margin=dict(l=0, r=0, t=0, b=0, pad=0, autoexpand=False),
                  paper_bgcolor="white", plot_bgcolor="white",
                  shapes=shapes, annotations=annotations,
                  showlegend=False, hovermode=False)

# page margin off so the figure sits at the window origin
fig.write_html("out.html", config={"displayModeBar": False, "responsive": False},
               post_script="document.body.style.margin='0';document.body.style.overflow='hidden';")
